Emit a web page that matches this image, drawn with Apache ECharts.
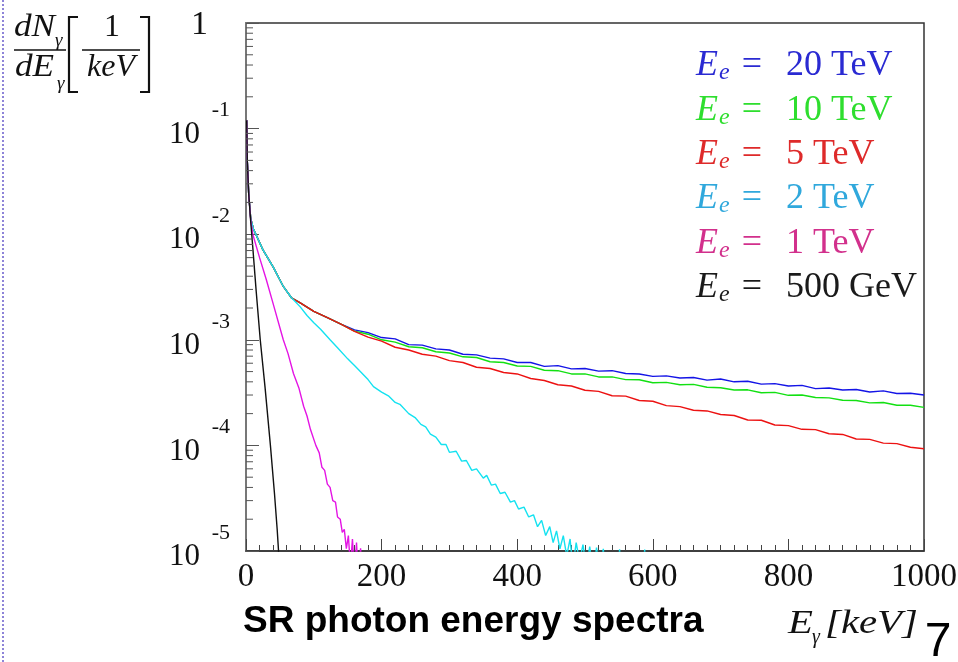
<!DOCTYPE html>
<html><head><meta charset="utf-8">
<script src="https://cdn.jsdelivr.net/npm/echarts@6/dist/echarts.min.js"></script>
<style>html,body{margin:0;padding:0;background:#fff}#c{width:958px;height:662px}</style>
</head><body><div id="c"></div>
<script>
// ---- tick labels / categories ----
const xTickValues = [0, 200, 400, 600, 800, 1000];
const legendValues = ['20 TeV', '10 TeV', '5 TeV', '2 TeV', '1 TeV', '500 GeV'];
const seriesNames = ['E20', 'E10', 'E5', 'E2', 'E1', 'E05'];

// ---- data: [E_gamma (keV), dN/dE (1/keV)] ----
const headAll = [[1, 0.12], [2, 0.048], [4, 0.024]];
const sharedLow = [[7, 0.014], [11, 0.0112], [16, 9.5e-3], [25, 7.1e-3], [40, 4.9e-3], [55, 3.2e-3], [67, 2.5e-3]];
const sharedRed = [[80, 2.24e-3], [100, 1.86e-3], [120, 1.62e-3], [140, 1.41e-3]];
const blueTail = [[160, 1.24e-3], [180, 1.17e-3], [200, 1.05e-3], [220, 1.02e-3], [240, 9.0e-4], [260, 8.9e-4], [280, 8.2e-4], [300, 8.0e-4], [320, 7.3e-4], [340, 7.2e-4], [360, 6.7e-4], [380, 6.6e-4], [400, 6.1e-4], [420, 6.1e-4], [440, 5.6e-4], [460, 5.7e-4], [480, 5.3e-4], [500, 5.35e-4], [520, 5.05e-4], [540, 5.1e-4], [560, 4.8e-4], [580, 4.75e-4], [600, 4.5e-4], [620, 4.55e-4], [640, 4.35e-4], [660, 4.4e-4], [680, 4.15e-4], [700, 4.25e-4], [720, 4.0e-4], [740, 4.05e-4], [760, 3.8e-4], [780, 3.85e-4], [800, 3.65e-4], [820, 3.7e-4], [840, 3.45e-4], [860, 3.5e-4], [880, 3.35e-4], [900, 3.38e-4], [920, 3.2e-4], [940, 3.28e-4], [960, 3.1e-4], [980, 3.12e-4], [1000, 3.0e-4]];
const greenTail = [[160, 1.21e-3], [180, 1.13e-3], [200, 1.0e-3], [220, 9.5e-4], [240, 8.6e-4], [260, 8.4e-4], [280, 7.7e-4], [300, 7.5e-4], [320, 6.9e-4], [340, 6.8e-4], [360, 6.2e-4], [380, 6.1e-4], [400, 5.65e-4], [420, 5.6e-4], [440, 5.15e-4], [460, 5.1e-4], [480, 4.75e-4], [500, 4.75e-4], [520, 4.45e-4], [540, 4.45e-4], [560, 4.2e-4], [580, 4.18e-4], [600, 3.92e-4], [620, 3.95e-4], [640, 3.75e-4], [660, 3.78e-4], [680, 3.55e-4], [700, 3.52e-4], [720, 3.35e-4], [740, 3.36e-4], [760, 3.15e-4], [780, 3.18e-4], [800, 2.98e-4], [820, 3.0e-4], [840, 2.84e-4], [860, 2.82e-4], [880, 2.68e-4], [900, 2.66e-4], [920, 2.53e-4], [940, 2.55e-4], [960, 2.4e-4], [980, 2.4e-4], [1000, 2.29e-4]];
const redTail = [[160, 1.2e-3], [180, 1.06e-3], [200, 9.7e-4], [220, 8.5e-4], [240, 8.0e-4], [260, 7.3e-4], [280, 7.0e-4], [300, 6.35e-4], [320, 6.1e-4], [340, 5.5e-4], [360, 5.35e-4], [380, 4.9e-4], [400, 4.75e-4], [420, 4.3e-4], [440, 4.12e-4], [460, 3.75e-4], [480, 3.65e-4], [500, 3.33e-4], [520, 3.25e-4], [540, 2.95e-4], [560, 2.93e-4], [580, 2.66e-4], [600, 2.62e-4], [620, 2.38e-4], [640, 2.33e-4], [660, 2.15e-4], [680, 2.12e-4], [700, 1.96e-4], [720, 1.92e-4], [740, 1.74e-4], [760, 1.73e-4], [780, 1.56e-4], [800, 1.54e-4], [820, 1.42e-4], [840, 1.41e-4], [860, 1.29e-4], [880, 1.27e-4], [900, 1.15e-4], [920, 1.14e-4], [940, 1.05e-4], [960, 1.04e-4], [980, 9.6e-5], [1000, 9.3e-5]];
const cyanTail = [[70, 2.4e-3], [80, 2.05e-3], [90, 1.7e-3], [100, 1.45e-3], [110, 1.26e-3], [124, 1.0e-3], [135, 8.4e-4], [150, 6.6e-4], [160, 5.7e-4], [170, 4.9e-4], [180, 4.2e-4], [188, 3.6e-4], [200, 3.2e-4], [210, 2.95e-4], [220, 2.55e-4], [227, 2.45e-4], [240, 2.0e-4], [250, 1.82e-4], [258, 1.58e-4], [265, 1.5e-4], [272, 1.28e-4], [280, 1.2e-4], [288, 1.02e-4], [295, 1.02e-4], [300, 8.6e-5], [310, 8.8e-5], [318, 7.1e-5], [325, 7.2e-5], [333, 5.8e-5], [340, 6.0e-5], [350, 4.9e-5], [355, 5.2e-5], [362, 4.2e-5], [368, 4.3e-5], [375, 3.5e-5], [382, 3.6e-5], [390, 2.9e-5], [396, 3.0e-5], [402, 2.5e-5], [410, 2.6e-5], [417, 2.1e-5], [424, 2.2e-5], [430, 1.7e-5], [436, 1.95e-5], [442, 1.4e-5], [448, 1.7e-5], [453, 1.2e-5], [458, 1.55e-5], [463, 1.05e-5], [468, 1.4e-5], [473, 0.9e-5], [478, 1.3e-5], [482, 0.7e-5], [487, 1.2e-5], [492, 0.8e-5], [497, 1.15e-5], [502, 0.7e-5], [507, 1.1e-5], [512, 0.6e-5], [517, 1.08e-5], [522, 0.6e-5], [527, 1.05e-5], [531, 0.5e-5], [548, 0.5e-5], [551, 1.04e-5], [554, 0.5e-5], [585, 0.5e-5], [588, 1.03e-5], [591, 0.5e-5], [600, 0.5e-5]];
const magentaTail = [[7, 0.0135], [10, 0.0100], [20, 6.0e-3], [30, 3.7e-3], [40, 2.2e-3], [55, 1.0e-3], [62, 7.4e-4], [70, 4.8e-4], [78, 3.5e-4], [85, 2.35e-4], [90, 1.9e-4], [95, 1.42e-4], [103, 1.0e-4], [108, 8.5e-5], [112, 6.2e-5], [116, 5.8e-5], [120, 4.3e-5], [124, 4.0e-5], [128, 3.0e-5], [132, 2.9e-5], [135, 2.1e-5], [139, 2.0e-5], [142, 1.5e-5], [145, 1.6e-5], [148, 1.05e-5], [151, 1.4e-5], [154, 0.7e-5], [157, 1.3e-5], [160, 0.6e-5], [163, 1.2e-5], [166, 0.5e-5], [169, 1.06e-5], [172, 0.5e-5]];
const blackTail = [[7, 0.013], [10, 7.5e-3], [15, 2.9e-3], [21, 1.0e-3], [28, 3.6e-4], [36, 1.0e-4], [42, 3.5e-5], [46, 1.6e-5], [48, 1.0e-5], [50, 5e-6]];

const serif = '"Liberation Serif","DejaVu Serif",serif';
const sans = '"Liberation Sans",Arial,sans-serif';

const lineColors = ['#1414e6', '#12e012', '#ec1212', '#14e2f0', '#e414e4', '#111111'];
const legendColors = ['#2a2ad2', '#2ede2e', '#de2a2a', '#30a8dc', '#d2308c', '#1a1a1a'];

const dataSets = [
  [...headAll, ...sharedLow, ...sharedRed, ...blueTail],
  [...headAll, ...sharedLow, ...sharedRed, ...greenTail],
  [...headAll, ...sharedLow, ...sharedRed, ...redTail],
  [...headAll, ...sharedLow, ...cyanTail],
  [...headAll, ...magentaTail],
  [...headAll, ...blackTail]
];

// minor tick values on the log axis (2..9 per decade)
const minorY = [];
for (let d = -5; d < 0; d++) for (let m = 2; m <= 9; m++) minorY.push([0, m * Math.pow(10, d)]);

const series = dataSets.map((d, i) => ({
  name: seriesNames[i], type: 'line', data: d, showSymbol: false, symbol: 'none',
  lineStyle: { color: lineColors[i], width: 1.4 }, itemStyle: { color: lineColors[i] },
  clip: true, silent: true, animation: false
}));
series.push({
  type: 'custom', data: minorY, silent: true, animation: false, clip: false, z: 5,
  encode: { x: 0, y: 1 },
  renderItem: function (params, api) {
    const p = api.coord([0, api.value(1)]);
    return { type: 'line', shape: { x1: p[0], y1: p[1], x2: p[0] + 7, y2: p[1] }, style: { stroke: '#555', lineWidth: 1 } };
  }
});

const legendData = seriesNames.map((n, i) => ({ name: n, textStyle: { color: legendColors[i] } }));

const chart = echarts.init(document.getElementById('c'), null, { renderer: 'canvas' });
chart.setOption({
  backgroundColor: '#ffffff',
  animation: false,
  grid: { left: 246, right: 34, top: 23, bottom: 111, containLabel: false, outerBoundsMode: 'none', show: true, borderColor: '#333', borderWidth: 1.5, backgroundColor: 'transparent' },
  xAxis: {
    type: 'value', min: 0, max: 1000, interval: 200,
    axisLine: { show: true, lineStyle: { color: '#333', width: 1.5 } },
    axisTick: { show: true, inside: true, length: 12, lineStyle: { color: '#444', width: 1 } },
    minorTick: { show: true, splitNumber: 10, length: 6, lineStyle: { color: '#444', width: 1 } },
    splitLine: { show: false },
    axisLabel: {
      margin: 10, color: '#111', fontFamily: serif, fontSize: 33, lineHeight: 33,
      formatter: v => xTickValues.indexOf(v) >= 0 ? String(v) : ''
    }
  },
  yAxis: {
    type: 'log', logBase: 10, min: 1e-5, max: 1, splitNumber: 5,
    axisLine: { show: true, lineStyle: { color: '#777', width: 2 } },
    axisTick: { show: true, inside: true, length: 13, lineStyle: { color: '#555', width: 1 } },
    splitLine: { show: false },
    axisLabel: {
      margin: 16, color: '#111', padding: [0, 0, 10, 0],
      formatter: function (v) {
        const e = Math.round(Math.log10(v));
        if (e === 0) return '{one|1}';
        return '{s|' + e + '}\n{b|10}';
      },
      rich: {
        one: { fontFamily: serif, fontSize: 34, lineHeight: 34, padding: [15, 22, 0, 0], color: '#111' },
        s: { fontFamily: serif, fontSize: 22, lineHeight: 22, color: '#111' },
        b: { fontFamily: serif, fontSize: 31, lineHeight: 26, padding: [0, 30, 0, 0], color: '#111' }
      }
    }
  },
  legend: {
    data: legendData, orient: 'vertical', left: 686, top: 42, icon: 'none',
    itemWidth: 0, itemHeight: 38, itemGap: 6.3, selectedMode: false,
    formatter: function (name) {
      const i = seriesNames.indexOf(name);
      return '{e|E}{sub|e}{eq|=}{v|' + legendValues[i] + '}';
    },
    textStyle: {
      rich: {
        e: { fontFamily: serif, fontStyle: 'italic', fontSize: 36, lineHeight: 38, verticalAlign: 'middle' },
        sub: { fontFamily: serif, fontStyle: 'italic', fontSize: 24, lineHeight: 20, verticalAlign: 'bottom', padding: [0, 12, 0, 1] },
        eq: { fontFamily: serif, fontSize: 36, lineHeight: 38, verticalAlign: 'middle', padding: [0, 24, 0, 0] },
        v: { fontFamily: serif, fontSize: 36, lineHeight: 38, verticalAlign: 'middle' }
      }
    }
  },
  graphic: [
    { type: 'line', shape: { x1: 3, y1: 0, x2: 3, y2: 662 }, style: { stroke: '#6a5ccc', lineWidth: 1.5, lineDash: [2, 2] } },
    { type: 'text', x: 14, y: 28, scaleX: 1.1, style: { text: 'dN', font: 'italic 32px ' + serif, fill: '#111', textVerticalAlign: 'middle' } },
    { type: 'text', x: 55, y: 41, style: { text: 'γ', font: 'italic 19px ' + serif, fill: '#111', textVerticalAlign: 'middle' } },
    { type: 'line', shape: { x1: 14, y1: 50, x2: 66, y2: 50 }, style: { stroke: '#111', lineWidth: 1.6 } },
    { type: 'text', x: 15, y: 68, scaleX: 1.1, style: { text: 'dE', font: 'italic 32px ' + serif, fill: '#111', textVerticalAlign: 'middle' } },
    { type: 'text', x: 57, y: 84, style: { text: 'γ', font: 'italic 19px ' + serif, fill: '#111', textVerticalAlign: 'middle' } },
    { type: 'polyline', shape: { points: [[78, 17], [69, 17], [69, 92], [78, 92]] }, style: { stroke: '#111', lineWidth: 2.2, fill: null } },
    { type: 'text', x: 112, y: 28, style: { text: '1', font: '32px ' + serif, fill: '#111', textAlign: 'center', textVerticalAlign: 'middle' } },
    { type: 'line', shape: { x1: 82, y1: 50, x2: 140, y2: 50 }, style: { stroke: '#111', lineWidth: 1.6 } },
    { type: 'text', x: 111, y: 68, style: { text: 'keV', font: 'italic 32px ' + serif, fill: '#111', textAlign: 'center', textVerticalAlign: 'middle' } },
    { type: 'polyline', shape: { points: [[140, 17], [149, 17], [149, 92], [140, 92]] }, style: { stroke: '#111', lineWidth: 2.2, fill: null } },
    { type: 'text', x: 243, y: 622, style: { text: 'SR photon energy spectra', font: 'bold 37px ' + sans, fill: '#000', textVerticalAlign: 'middle' } },
    { type: 'text', x: 788, y: 624, scaleX: 1.2, style: { text: 'E', font: 'italic 34px ' + serif, fill: '#111', textVerticalAlign: 'middle' } },
    { type: 'text', x: 812, y: 638, style: { text: 'γ', font: 'italic 20px ' + serif, fill: '#111', textVerticalAlign: 'middle' } },
    { type: 'text', x: 825, y: 624, scaleX: 1.2, style: { text: '[keV]', font: 'italic 34px ' + serif, fill: '#111', textVerticalAlign: 'middle' } },
    { type: 'text', x: 938, y: 643, style: { text: '7', font: '48px ' + sans, fill: '#000', textAlign: 'center', textVerticalAlign: 'middle' } }
  ],
  series: series
});
</script></body></html>
